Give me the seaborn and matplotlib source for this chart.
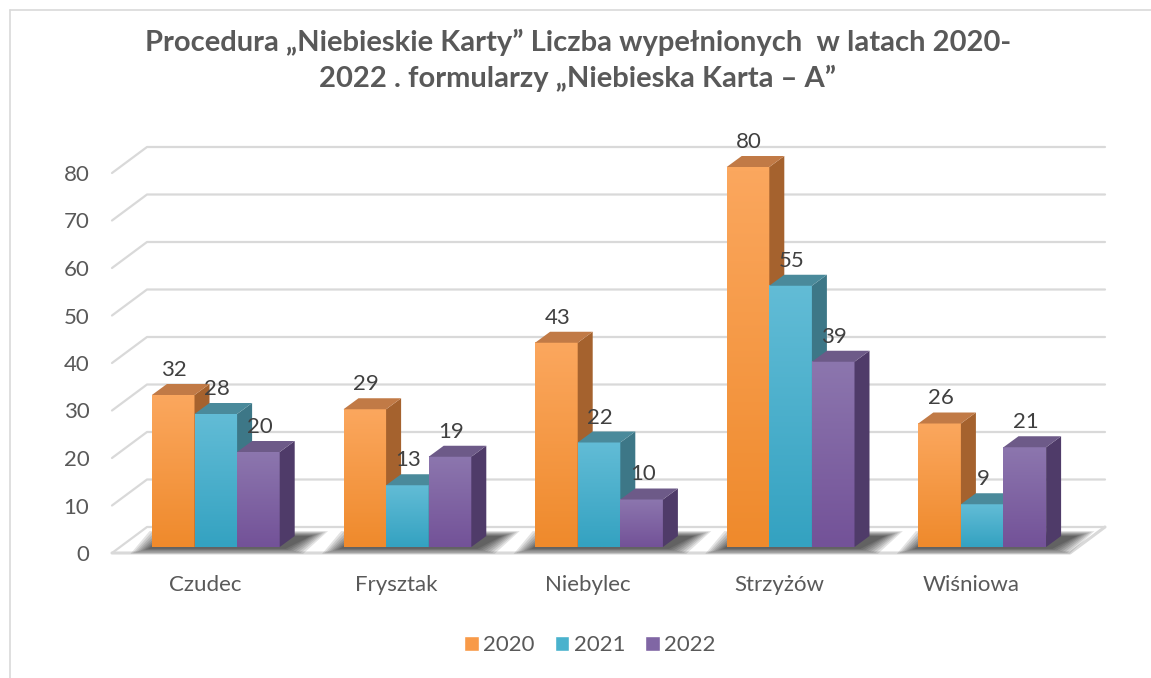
import numpy as np
import pandas as pd
import matplotlib
matplotlib.use('Agg')
import matplotlib.pyplot as plt
import matplotlib.transforms as mtransforms
from matplotlib.patches import Polygon, Patch
from matplotlib.lines import Line2D
from matplotlib.colors import LinearSegmentedColormap
import seaborn as sns

# dane z wykresu
gminy = ['Czudec', 'Frysztak', 'Niebylec', 'Strzyżów', 'Wiśniowa']
lata = ['2020', '2021', '2022']
v2020 = [32, 29, 43, 80, 26]
v2021 = [28, 13, 22, 55, 9]
v2022 = [20, 19, 10, 39, 21]
yticks = [0, 10, 20, 30, 40, 50, 60, 70, 80]

df = pd.DataFrame({
    'gmina': gminy * 3,
    'rok': [r for r in lata for _ in gminy],
    'ile': v2020 + v2021 + v2022,
})

# kolory: front (gora/dol gradientu), bok, wierzch
kol_gora = ['#FBA75E', '#62BCD6', '#8C76AE']
kol_dol = ['#EF8A2C', '#34A2C1', '#735298']
kol_leg = ['#F89A48', '#4AB2CD', '#8066A4']
kol_bok = ['#A5622E', '#3D7787', '#4F3B69']
kol_wierzch = ['#C17A46', '#4A8A9B', '#6D5A88']
szary = '#D9D9D9'
tekst = '#595959'

sns.set_theme(style='white')
plt.rcParams['font.family'] = ['Lato', 'DejaVu Sans']

W, H = 1151, 678
fig = plt.figure(figsize=(W / 100, H / 100), dpi=100)
ax = fig.add_axes([120 / W, 131 / H, 958 / W, 380 / H])

sns.barplot(data=df, x='gmina', y='ile', hue='rok', palette=kol_dol,
            width=0.667, saturation=1, legend=False, ax=ax, linewidth=0)

ax.set_xlim(-0.5, 4.5)
ax.set_ylim(0, 80)
kx = 958 / 5   # px na jednostke x
ky = 380 / 80  # px na jednostke y

# glebokosc slupka
ddx, ddy = 15 / kx, 11 / ky
# siatka "3D"
fdx, fdy = -8 / kx, -6 / ky
bdx, bdy = 27 / kx, 20 / ky
xl, xr = -0.5, 4.5

for v in yticks:
    ax.add_line(Line2D([xl + fdx, xl + bdx, xr + bdx], [v + fdy, v + bdy, v + bdy],
                       color=szary, lw=1.6, zorder=0, clip_on=False))
# krawedz podlogi
ax.add_line(Line2D([xl + fdx, xr + fdx, xr + bdx], [fdy, fdy, bdy],
                   color=szary, lw=2.2, zorder=0.5, clip_on=False))

# cien pod slupkami
for i in range(len(gminy)):
    x0, x1 = i - 0.333, i + 0.333
    for k in range(8):
        s = k * 2.5 / kx
        t = k * 0.7 / ky
        ax.add_patch(Polygon([(x0 - s - 4 / kx, -t - 0.4), (x1 + s + 6 / kx, -t - 0.4),
                              (x1 + ddx + s + 16 / kx, ddy + t), (x0 + ddx - s, ddy + t)],
                             closed=True, facecolor='black', edgecolor='none',
                             alpha=0.11, zorder=1, clip_on=False))

grad = np.linspace(0, 1, 64).reshape(-1, 1)
for h, cont in enumerate(ax.containers):
    cmap = LinearSegmentedColormap.from_list('c%d' % h, [kol_gora[h], kol_dol[h]])
    for bar in cont:
        x0 = bar.get_x()
        x1 = x0 + bar.get_width()
        v = bar.get_height()
        z = 3 + h
        bar.set_zorder(z)
        ax.imshow(grad, extent=[x0, x1, 0, v], origin='upper', cmap=cmap,
                  aspect='auto', zorder=z + 0.1, interpolation='bilinear')
        ax.add_patch(Polygon([(x1, 0), (x1 + ddx, ddy), (x1 + ddx, v + ddy), (x1, v)],
                             closed=True, facecolor=kol_bok[h], edgecolor='none',
                             zorder=z + 0.5, clip_on=False))
        ax.add_patch(Polygon([(x0, v), (x1, v), (x1 + ddx, v + ddy), (x0 + ddx, v + ddy)],
                             closed=True, facecolor=kol_wierzch[h], edgecolor='none',
                             zorder=z + 0.5, clip_on=False))
        ax.annotate('%d' % v, (x0 + bar.get_width() / 2, v), xytext=(1, 25),
                    textcoords='offset pixels', ha='center', va='center',
                    fontsize=16, color='#404040', zorder=10, annotation_clip=False)

ax.set_xlim(-0.5, 4.5)
ax.set_ylim(0, 80)
for s in ax.spines.values():
    s.set_visible(False)
ax.set_xlabel('')
ax.set_ylabel('')
ax.set_yticks(yticks)
ax.set_yticklabels([str(t) for t in yticks])
ax.tick_params(axis='y', length=0, pad=22, labelsize=16, labelcolor=tekst)
ax.tick_params(axis='x', length=0, pad=20, labelsize=16, labelcolor=tekst)
for lab in ax.get_yticklabels():
    lab.set_transform(lab.get_transform() + mtransforms.ScaledTranslation(0, -0.06, fig.dpi_scale_trans))
for lab in ax.get_xticklabels():
    lab.set_transform(lab.get_transform() + mtransforms.ScaledTranslation(-0.11, 0, fig.dpi_scale_trans))
ax.grid(False)

fig.text(578 / W, 1 - 42 / H, 'Procedura „Niebieskie Karty” Liczba wypełnionych  w latach 2020-',
         ha='center', va='center', fontsize=21, fontweight='bold', color=tekst)
fig.text(578 / W, 1 - 78 / H, '2022 . formularzy „Niebieska Karta – A”',
         ha='center', va='center', fontsize=21, fontweight='bold', color=tekst)

uchwyty = [Patch(facecolor=kol_leg[i], label=lata[i]) for i in range(3)]
fig.legend(handles=uchwyty, loc='center', bbox_to_anchor=(590 / W, 1 - 645 / H), ncol=3,
           frameon=False, fontsize=16, handlelength=0.65, handleheight=0.65,
           handletextpad=0.2, columnspacing=0.9, labelcolor=tekst)

# ramka wykresu
fig.add_artist(Line2D([10 / W, 10 / W], [0, 1 - 10 / H], color=szary, lw=1.2))
fig.add_artist(Line2D([10 / W, 1], [1 - 10 / H, 1 - 10 / H], color=szary, lw=1.2))

fig.savefig('out.png', dpi=100)
